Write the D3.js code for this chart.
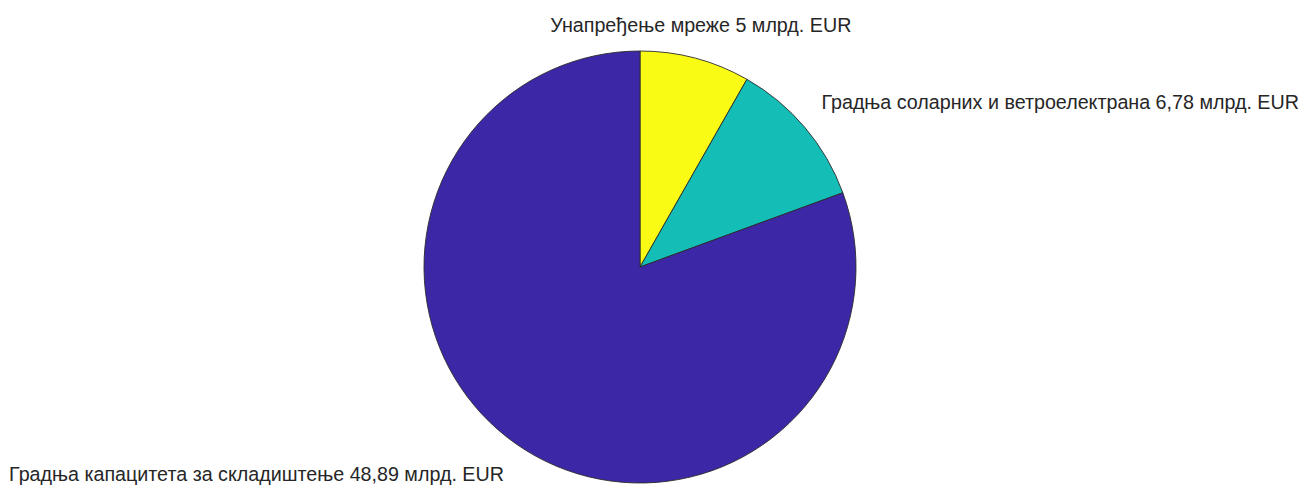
<!DOCTYPE html>
<html>
<head>
<meta charset="utf-8">
<script src="https://cdn.jsdelivr.net/npm/d3@7"></script>
<style>
  html, body { margin: 0; padding: 0; background: #fff; }
  svg { display: block; }
  text { font-family: "Liberation Sans", Arial, sans-serif; fill: #262626; }
</style>
</head>
<body>
<svg id="chart" width="1300" height="489"></svg>
<script>
// Investment breakdown, billions of EUR
const categories = [
  "Унапређење мреже",
  "Градња соларних и ветроелектрана",
  "Градња капацитета за складиштење"
];
const values = [5, 6.78, 48.89];
const valueLabels = ["5", "6,78", "48,89"];
const unit = "млрд. EUR";
const colors = ["#f9fb15", "#14bdb6", "#3c27a6"];

const width = 1300, height = 489;
const cx = 640, cy = 267, radius = 216;

const svg = d3.select("#chart");
const g = svg.append("g").attr("transform", `translate(${cx},${cy})`);

const data = categories.map((c, i) => ({ name: c, value: values[i], label: valueLabels[i], color: colors[i] }));

const pie = d3.pie().value(d => d.value).sort(null);
const arcs = pie(data);

const arc = d3.arc().innerRadius(0).outerRadius(radius);
const labelArc = d3.arc().innerRadius(radius * 1.1).outerRadius(radius * 1.1);

g.selectAll("path.slice")
  .data(arcs)
  .join("path")
  .attr("class", "slice")
  .attr("d", arc)
  .attr("fill", d => d.data.color)
  .attr("stroke", "#2b2b2b")
  .attr("stroke-width", 0.9)
  .attr("stroke-linejoin", "round");

const fontSize = 19.7;
g.selectAll("text.label")
  .data(arcs)
  .join("text")
  .attr("class", "label")
  .attr("font-size", fontSize)
  .each(function (d) {
    const [x, y] = labelArc.centroid(d);
    const anchor = Math.abs(x) < radius * 0.35 ? "middle" : (x > 0 ? "start" : "end");
    const ty = y < 0 ? y - 5 : y + 19;
    d3.select(this)
      .attr("x", x)
      .attr("y", ty)
      .attr("text-anchor", anchor)
      .text(`${d.data.name} ${d.data.label} ${unit}`);
  });
</script>
</body>
</html>
